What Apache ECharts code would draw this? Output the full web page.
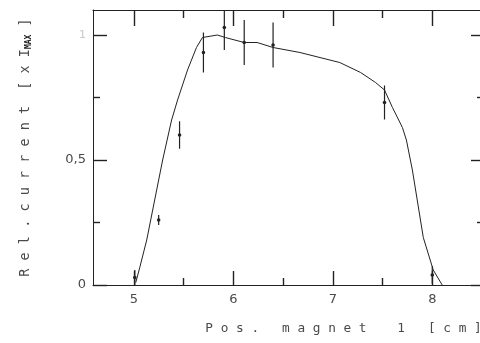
<!DOCTYPE html>
<html>
<head>
<meta charset="utf-8">
<script src="https://cdn.jsdelivr.net/npm/echarts@6/dist/echarts.min.js"></script>
<style>
  html, body { margin: 0; padding: 0; background: #fff; }
  #chart { width: 480px; height: 343px; }
</style>
</head>
<body>
<div id="chart"></div>
<script>
const curveX = [5.02, 5.06, 5.13, 5.21, 5.29, 5.38, 5.44, 5.54, 5.63, 5.69, 5.84, 5.92, 6.11, 6.24, 6.40, 6.67, 7.07, 7.28, 7.43, 7.52, 7.60, 7.70, 7.74, 7.80, 7.91, 8.01, 8.10];
const curveY = [0.01, 0.07, 0.18, 0.34, 0.50, 0.66, 0.74, 0.86, 0.95, 0.99, 1.00, 0.99, 0.97, 0.97, 0.95, 0.93, 0.89, 0.85, 0.81, 0.78, 0.71, 0.63, 0.58, 0.46, 0.19, 0.06, 0.0];

// measured points with error bars
const pointX = [5.01, 5.25, 5.46, 5.70, 5.91, 6.11, 6.40, 7.52, 8.00];
const pointY = [0.03, 0.26, 0.60, 0.93, 1.03, 0.97, 0.96, 0.73, 0.04];
const pointErr = [0.03, 0.02, 0.055, 0.08, 0.09, 0.09, 0.09, 0.068, 0.035];

const xMajor = [5, 6, 7, 8];
const xMinor = [5.5, 6.5, 7.5];
const yMajor = [0, 0.5, 1];
const yMinor = [0.25, 0.75];

const ink = "#222";
const textColor = "#4a4a4a";
const X_MIN = 4.59, X_MAX = 8.52;
const Y_MIN = 0, Y_MAX = 1.1;

function xAxisDef(pos, ticks, len, main) {
  return {
    type: "value",
    position: pos,
    min: X_MIN,
    max: X_MAX,
    axisLine: { show: main, onZero: false, lineStyle: { color: ink, width: 1 } },
    axisTick: { show: true, inside: true, length: len, customValues: ticks, lineStyle: { color: ink, width: 1.4 } },
    axisLabel: { show: false },
    splitLine: { show: false },
  };
}
function yAxisDef(pos, ticks, len, main) {
  return {
    type: "value",
    position: pos,
    min: Y_MIN,
    max: Y_MAX,
    axisLine: { show: main, onZero: false, lineStyle: { color: ink, width: 1 } },
    axisTick: { show: true, inside: true, length: len, customValues: ticks, lineStyle: { color: ink, width: 1.4 } },
    axisLabel: { show: false },
    splitLine: { show: false },
  };
}

const xBottom = xAxisDef("bottom", xMajor, 14, true);
xBottom.axisLabel = {
  show: true,
  customValues: xMajor,
  margin: 8,
  color: textColor,
  fontFamily: "DejaVu Sans",
  fontSize: 13,
};
xBottom.name = "P o s .   m a g n e t    1   [ c m ]";
xBottom.nameLocation = "middle";
xBottom.nameGap = 37;
xBottom.nameTextStyle = {
  color: textColor,
  fontFamily: "DejaVu Sans Mono",
  fontSize: 12.75,
  padding: [0, 0, 0, 110],
};

const yLeft = yAxisDef("left", yMajor, 14, true);
yLeft.axisLabel = {
  show: true,
  customValues: yMajor,
  margin: 7,
  color: textColor,
  fontFamily: "DejaVu Sans",
  fontSize: 13,
  formatter: (v) => (v === 1 ? "{f|1}" : String(v).replace(".", ",")),
  rich: { f: { color: "#c8c8c8", fontSize: 11, fontFamily: "DejaVu Sans" } },
};
yLeft.name = "{a|R e l . c u r r e n t  [ x I}{s|MAX}{a| ]}";
yLeft.nameLocation = "middle";
yLeft.nameGap = 60;
yLeft.nameTextStyle = {
  color: textColor,
  padding: [0, 0, 0, 0],
  rich: {
    a: { fontFamily: "DejaVu Sans Mono", fontSize: 13.5, color: textColor, lineHeight: 16 },
    s: { fontFamily: "DejaVu Sans Mono", fontSize: 8, fontWeight: "bold", color: ink, verticalAlign: "bottom", lineHeight: 16 },
  },
};

const chart = echarts.init(document.getElementById("chart"));
chart.setOption({
  backgroundColor: "#fff",
  animation: false,
  grid: { left: 93, right: -4, top: 10, bottom: 58, outerBoundsMode: "none" },
  xAxis: [
    xBottom,
    xAxisDef("bottom", xMinor, 7, false),
    xAxisDef("top", xMajor, 16, true),
    xAxisDef("top", xMinor, 8, false),
  ],
  yAxis: [
    yLeft,
    yAxisDef("left", yMinor, 7, false),
    yAxisDef("right", yMajor, 13, true),
    yAxisDef("right", yMinor, 7, false),
  ],
  series: [
    {
      type: "line",
      xAxisIndex: 0,
      yAxisIndex: 0,
      data: curveX.map((x, i) => [x, curveY[i]]),
      symbol: "none",
      lineStyle: { color: ink, width: 1 },
    },
    {
      type: "custom",
      xAxisIndex: 0,
      yAxisIndex: 0,
      clip: true,
      data: pointX.map((x, i) => [x, pointY[i], pointErr[i]]),
      renderItem: (params, api) => {
        const x = api.value(0), y = api.value(1), e = api.value(2);
        const lo = api.coord([x, y - e]);
        const hi = api.coord([x, y + e]);
        const c = api.coord([x, y]);
        return {
          type: "group",
          children: [
            { type: "line", shape: { x1: lo[0], y1: lo[1], x2: hi[0], y2: hi[1] }, style: { stroke: ink, lineWidth: 1.2 } },
            { type: "circle", shape: { cx: c[0], cy: c[1], r: 1.8 }, style: { fill: ink } },
          ],
        };
      },
    },
  ],
});
</script>
</body>
</html>
